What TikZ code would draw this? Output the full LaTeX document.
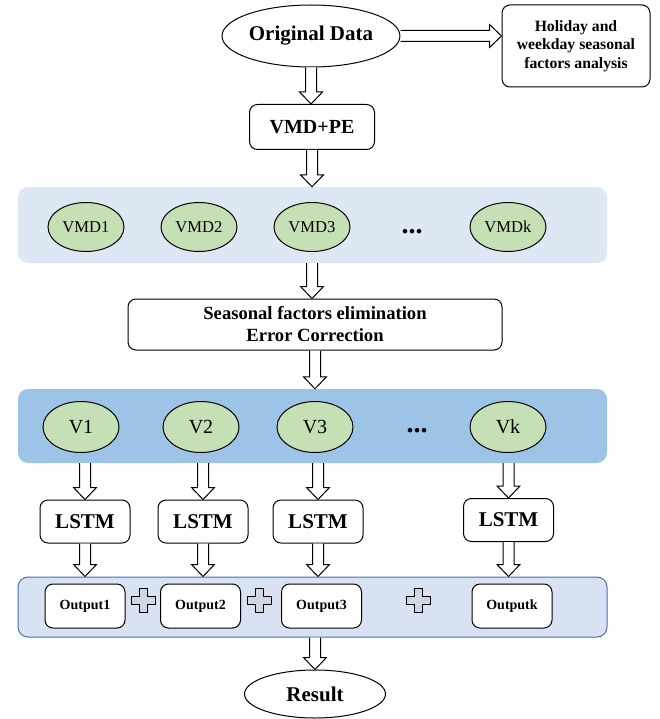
\documentclass[tikz,border=0pt]{standalone}
\usepackage{fontspec}
\setmainfont{Liberation Serif}
\usepackage{xcolor}
\usepackage{tikz}
\usetikzlibrary{shapes.geometric}
\usetikzlibrary{calc}
\usetikzlibrary{positioning}
\tikzset{>=stealth}
\definecolor{vmdband}{HTML}{DEE8F5}
\definecolor{vband}{HTML}{9DC3E6}
\definecolor{outband}{HTML}{D9E2F3}
\definecolor{outedge}{HTML}{4A70B0}
\definecolor{modegreen}{HTML}{C5E0B4}
\definecolor{plusgray}{HTML}{D0D7E2}
\tikzset{
    roundbox/.style={draw, rounded corners=8pt, line width=1pt, fill=white, align=center, inner sep=0pt},
    dataell/.style={draw, ellipse, line width=1pt, fill=white, inner sep=0pt, font=\fontsize{21}{24}\selectfont\bfseries},
    modeell/.style={draw, ellipse, line width=1pt, fill=modegreen, inner sep=0pt, minimum width=76pt, minimum height=49pt},
    band/.style={rounded corners=10pt, inner sep=0pt, minimum width=589pt},
    blockarrow/.style={draw, fill=white, line width=1pt},
    plussign/.style={draw, fill=plusgray, line width=1pt},
    dotsfont/.style={font=\fontsize{28}{30}\selectfont\bfseries}
}
% hollow block arrows between two points
\newcommand{\blkdown}[2]{%
    \path[blockarrow] let \p1=#1, \p2=#2 in
        (\x1-5.5pt,\y1) -- (\x1-5.5pt,\y2+12pt) -- (\x1-11.5pt,\y2+12pt) -- (\x1,\y2)
        -- (\x1+11.5pt,\y2+12pt) -- (\x1+5.5pt,\y2+12pt) -- (\x1+5.5pt,\y1);}
\newcommand{\blkright}[2]{%
    \path[blockarrow] let \p1=#1, \p2=#2 in
        (\x1,\y1-5.5pt) -- (\x2-12pt,\y1-5.5pt) -- (\x2-12pt,\y1-11.5pt) -- (\x2,\y1)
        -- (\x2-12pt,\y1+11.5pt) -- (\x2-12pt,\y1+5.5pt) -- (\x1,\y1+5.5pt);}
\newcommand{\plusmark}[1]{%
    \path[plussign] (#1) ++(-4,-12) -- ++(8,0) -- ++(0,8) -- ++(8,0) -- ++(0,8) -- ++(-8,0)
        -- ++(0,8) -- ++(-8,0) -- ++(0,-8) -- ++(-8,0) -- ++(0,-8) -- ++(8,0) -- cycle;}

\begin{document}
\begin{tikzpicture}[x=1pt,y=-1pt]
    \useasboundingbox (0,0) rectangle (660,719);

    % top part
    \node[dataell, minimum width=178pt, minimum height=62pt] (orig) at (311,36) {Original Data};
    \node[roundbox, minimum width=148pt, minimum height=82pt, font=\fontsize{15.7}{18.5}\selectfont\bfseries] (holiday) at (576,46) {Holiday and\\weekday seasonal\\factors analysis};
    \node[roundbox, minimum width=125pt, minimum height=45pt, font=\fontsize{20}{24}\selectfont\bfseries] (vmdpe) at (312,127) {VMD+PE};

    % decomposed modes
    \node[band, fill=vmdband, minimum height=76pt] (vmdbox) at (312.5,225) {};
    \foreach \i/\x in {1/86, 2/199, 3/312, k/508}
        \node[modeell, font=\fontsize{16.6}{19}\selectfont] (vmd\i) at (\x,227) {VMD\i};
    \node[dotsfont] (vmddots) at (412,232) {...};

    \node[roundbox, minimum width=374pt, minimum height=51pt, font=\fontsize{18.6}{22}\selectfont\bfseries] (season) at (315,324.5) {Seasonal factors elimination\\Error Correction};

    % corrected modes
    \node[band, fill=vband, minimum height=74pt] (vbox) at (312.5,426) {};
    \foreach \i/\x in {1/81, 2/201, 3/315, k/508}
        \node[modeell, minimum height=51pt, font=\fontsize{20}{22}\selectfont] (v\i) at (\x,427) {V\i};
    \node[dotsfont] (vdots) at (417,431) {...};

    % LSTM models
    \foreach \i/\x/\y in {1/85/521.5, 2/203/521.5, 3/318/521.5, k/508.5/520}
        \node[roundbox, minimum width=90pt, minimum height=43pt, font=\fontsize{21}{24}\selectfont\bfseries] (lstm\i) at (\x,\y) {LSTM};

    % outputs
    \node[band, draw=outedge, line width=1pt, fill=outband, minimum height=60pt] (outbox) at (312.5,607) {};
    \foreach \i/\x in {1/85, 2/200.5, 3/321.5, k/512}
        \node[roundbox, minimum width=80pt, minimum height=44pt, font=\fontsize{14}{16}\selectfont\bfseries] (out\i) at (\x,606) {Output\i};
    \coordinate (plus1) at (143,600);
    \coordinate (plus2) at (259,600);
    \coordinate (plus3) at (418,600);
    \foreach \p in {plus1, plus2, plus3}
        \plusmark{\p};

    \node[dataell, minimum width=141pt, minimum height=48pt] (result) at (315,694) {Result};

    % arrows
    \blkright{(orig.east)}{(holiday.west |- orig.east)}
    \blkdown{(orig.south)}{(vmdpe.north)}
    \blkdown{(vmdpe.south)}{(vmdpe.south |- vmdbox.north)}
    \blkdown{(vmd3 |- vmdbox.south)}{(vmd3 |- season.north)}
    \blkdown{(season.south)}{(season.south |- vbox.north)}
    \foreach \i in {1, 2, 3, k} {
        \blkdown{(lstm\i |- vbox.south)}{(lstm\i.north)}
        \blkdown{(lstm\i.south)}{(lstm\i |- outbox.north)}
    }
    \blkdown{(result |- outbox.south)}{(result.north)}
\end{tikzpicture}
\end{document}
